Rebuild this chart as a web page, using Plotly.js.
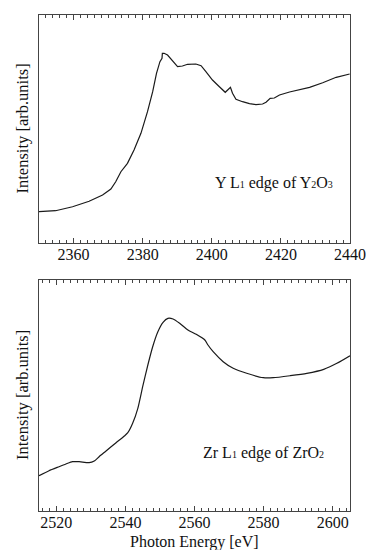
<!DOCTYPE html>
<html>
<head>
<meta charset="utf-8">
<script src="https://cdn.plot.ly/plotly-3.0.1.min.js"></script>
<style>html,body{margin:0;padding:0;background:#fff;}#chart{width:366px;height:550px;}</style>
</head>
<body>
<div id="chart"></div>
<script>
// Y L1 edge of Y2O3 (top panel)
var yEnergy = [2350, 2354.8, 2359.7, 2364.5, 2368.4, 2370.8, 2372.2, 2373.7, 2375.6, 2377.5, 2379.5, 2381.4, 2382.9, 2384, 2385, 2385.6, 2385.7, 2386.2, 2387.2, 2388.6, 2390.1, 2391.5, 2393, 2395.4, 2396.9, 2398.3, 2400.2, 2402.2, 2403.9, 2404.6, 2405.4, 2406, 2407, 2408.9, 2410.9, 2412.8, 2414.7, 2415.7, 2416.9, 2418.1, 2419.6, 2422.5, 2425.4, 2428.3, 2432.1, 2436, 2439.9];
var yIntensity = [31.3, 32.3, 36.3, 41.7, 48, 54, 61.3, 71.3, 79.7, 93, 109.7, 131.3, 151.3, 169.7, 181.3, 184.7, 189.7, 189.7, 188, 182.3, 176.3, 177, 178.7, 179, 177.3, 171.3, 163, 156.3, 150.7, 153, 155.7, 149.7, 143.7, 141.3, 139.3, 138.3, 139, 140.7, 144.7, 145, 148, 151, 153, 155.7, 160.3, 165.7, 169];

// Zr L1 edge of ZrO2 (bottom panel)
var zrEnergy = [2515, 2517.9, 2520.8, 2522.8, 2524.7, 2526.6, 2529.5, 2531, 2532.4, 2534.4, 2537.3, 2539.7, 2540.7, 2542.1, 2543.6, 2545, 2546.5, 2547.9, 2549.4, 2550.9, 2552.3, 2553.8, 2555.7, 2558.1, 2560.5, 2563, 2563.9, 2565.4, 2568.3, 2571.2, 2575.1, 2579.9, 2582.8, 2587.7, 2592.5, 2597.4, 2601.2, 2605];
var zrIntensity = [35.3, 40.3, 44.3, 47, 49.3, 49.3, 48.3, 50, 54.3, 60, 68.3, 75, 78.3, 87.7, 102.7, 124.3, 146, 164.3, 179.3, 188.7, 192.7, 192, 187.7, 181, 176.7, 171, 166, 159.3, 149.3, 142.7, 137.7, 133.3, 133.3, 135.3, 137.7, 141.7, 147.7, 155.3];

var topTicks = [2360, 2380, 2400, 2420, 2440];
var bottomTicks = [2520, 2540, 2560, 2580, 2600];
var yLabel = 'Intensity [arb.units]';
var xLabel = 'Photon Energy [eV]';
var topNote = 'Y L<span style="font-size:10px">1</span> edge of Y<span style="font-size:10px">2</span>O<span style="font-size:10px">3</span>';
var bottomNote = 'Zr L<span style="font-size:10px">1</span> edge of ZrO<span style="font-size:10px">2</span>';

var lineColor = '#1a1a1a';
var frameColor = '#444';
var font = {family: 'Liberation Serif', size: 16, color: '#111'};
var labelFont = {family: 'Liberation Serif', size: 16.5, color: '#111'};

var traces = [
  {x: yEnergy, y: yIntensity, type: 'scatter', mode: 'lines', xaxis: 'x', yaxis: 'y',
   line: {color: lineColor, width: 1.2}, hoverinfo: 'skip'},
  {x: zrEnergy, y: zrIntensity, type: 'scatter', mode: 'lines', xaxis: 'x2', yaxis: 'y2',
   line: {color: lineColor, width: 1.2, shape: 'spline', smoothing: 0.6}, hoverinfo: 'skip'}
];

function xAxis(range, ticks, anchor) {
  return {
    range: range, anchor: anchor, domain: [0, 1],
    tickmode: 'array', tickvals: ticks, ticktext: ticks.map(String),
    ticks: 'inside', ticklen: 5, tickwidth: 1, tickcolor: frameColor,
    minor: {dtick: 2, ticks: 'inside', ticklen: 3, tickwidth: 1, tickcolor: frameColor},
    showline: true, linecolor: frameColor, linewidth: 1, mirror: 'ticks',
    showgrid: false, zeroline: false, tickfont: font, fixedrange: true,
    ticklabelstandoff: -3
  };
}
function yAxis(range, domain, anchor) {
  return {
    range: range, domain: domain, anchor: anchor,
    showticklabels: false, ticks: '', showgrid: false, zeroline: false,
    showline: true, linecolor: frameColor, linewidth: 1, mirror: true, fixedrange: true
  };
}

var layout = {
  width: 366, height: 550,
  margin: {l: 39, r: 16, t: 15, b: 39},
  paper_bgcolor: '#fff', plot_bgcolor: '#fff',
  showlegend: false, font: font,
  xaxis: xAxis([2350, 2440], topTicks, 'y'),
  yaxis: yAxis([0, 228], [0.5403, 1], 'x'),
  xaxis2: xAxis([2515, 2605], bottomTicks, 'y2'),
  yaxis2: yAxis([0, 231], [0, 0.4657], 'x2'),
  annotations: [
    {text: topNote, xref: 'x', yref: 'y', x: 2418, y: 60, showarrow: false, font: font, xanchor: 'center', yanchor: 'middle'},
    {text: bottomNote, xref: 'x2', yref: 'y2', x: 2580, y: 58, showarrow: false, font: font, xanchor: 'center', yanchor: 'middle'},
    {text: xLabel, xref: 'paper', yref: 'paper', x: 0.5, y: 0, yshift: -31, showarrow: false, font: font, xanchor: 'center', yanchor: 'middle'},
    {text: yLabel, xref: 'paper', yref: 'paper', x: 0, y: 0.7702, xshift: -16.5, textangle: -90, showarrow: false, font: labelFont, xanchor: 'center', yanchor: 'middle'},
    {text: yLabel, xref: 'paper', yref: 'paper', x: 0, y: 0.2329, xshift: -16.5, textangle: -90, showarrow: false, font: labelFont, xanchor: 'center', yanchor: 'middle'}
  ]
};

Plotly.newPlot('chart', traces, layout, {staticPlot: true, displayModeBar: false});
</script>
</body>
</html>
